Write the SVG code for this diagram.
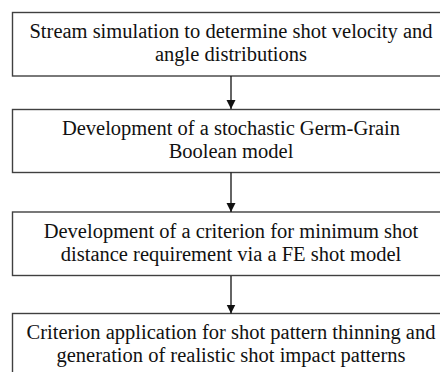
<svg xmlns="http://www.w3.org/2000/svg" width="440" height="372" viewBox="0 0 440 372">
<style>
.box{fill:#fff;stroke:#404040;stroke-width:1.4}
.t{font-family:'Liberation Serif',serif;font-size:20.5px;fill:#111;text-anchor:middle}
.c{stroke:#111;stroke-width:1.3;fill:none}
</style>
<defs>
<marker id="ah" markerWidth="10" markerHeight="10" refX="9" refY="5" orient="auto" markerUnits="userSpaceOnUse">
<path d="M0,0.5 L9,5 L0,9.5 Z" fill="#111"/>
</marker>
</defs>
<rect width="440" height="372" fill="#fff"/>
<g id="n1">
<rect class="box" x="12.5" y="12.5" width="440" height="63.5"/>
<text class="t" x="231" y="38">Stream simulation to determine shot velocity and</text>
<text class="t" x="231" y="61">angle distributions</text>
</g>
<g id="n2">
<rect class="box" x="12.5" y="109.5" width="440" height="63"/>
<text class="t" x="231" y="135">Development of a stochastic Germ-Grain</text>
<text class="t" x="231" y="158">Boolean model</text>
</g>
<g id="n3">
<rect class="box" x="12.5" y="212" width="440" height="63.5"/>
<text class="t" x="231" y="238">Development of a criterion for minimum shot</text>
<text class="t" x="231" y="261">distance requirement via a FE shot model</text>
</g>
<g id="n4">
<rect class="box" x="12.5" y="313.5" width="440" height="70"/>
<text class="t" x="231" y="339">Criterion application for shot pattern thinning and</text>
<text class="t" x="231" y="362">generation of realistic shot impact patterns</text>
</g>
<g id="connectors">
<line class="c" x1="231" y1="76" x2="231" y2="109" marker-end="url(#ah)"/>
<line class="c" x1="231" y1="172.5" x2="231" y2="212" marker-end="url(#ah)"/>
<line class="c" x1="231" y1="276" x2="231" y2="313.5" marker-end="url(#ah)"/>
</g>
</svg>
